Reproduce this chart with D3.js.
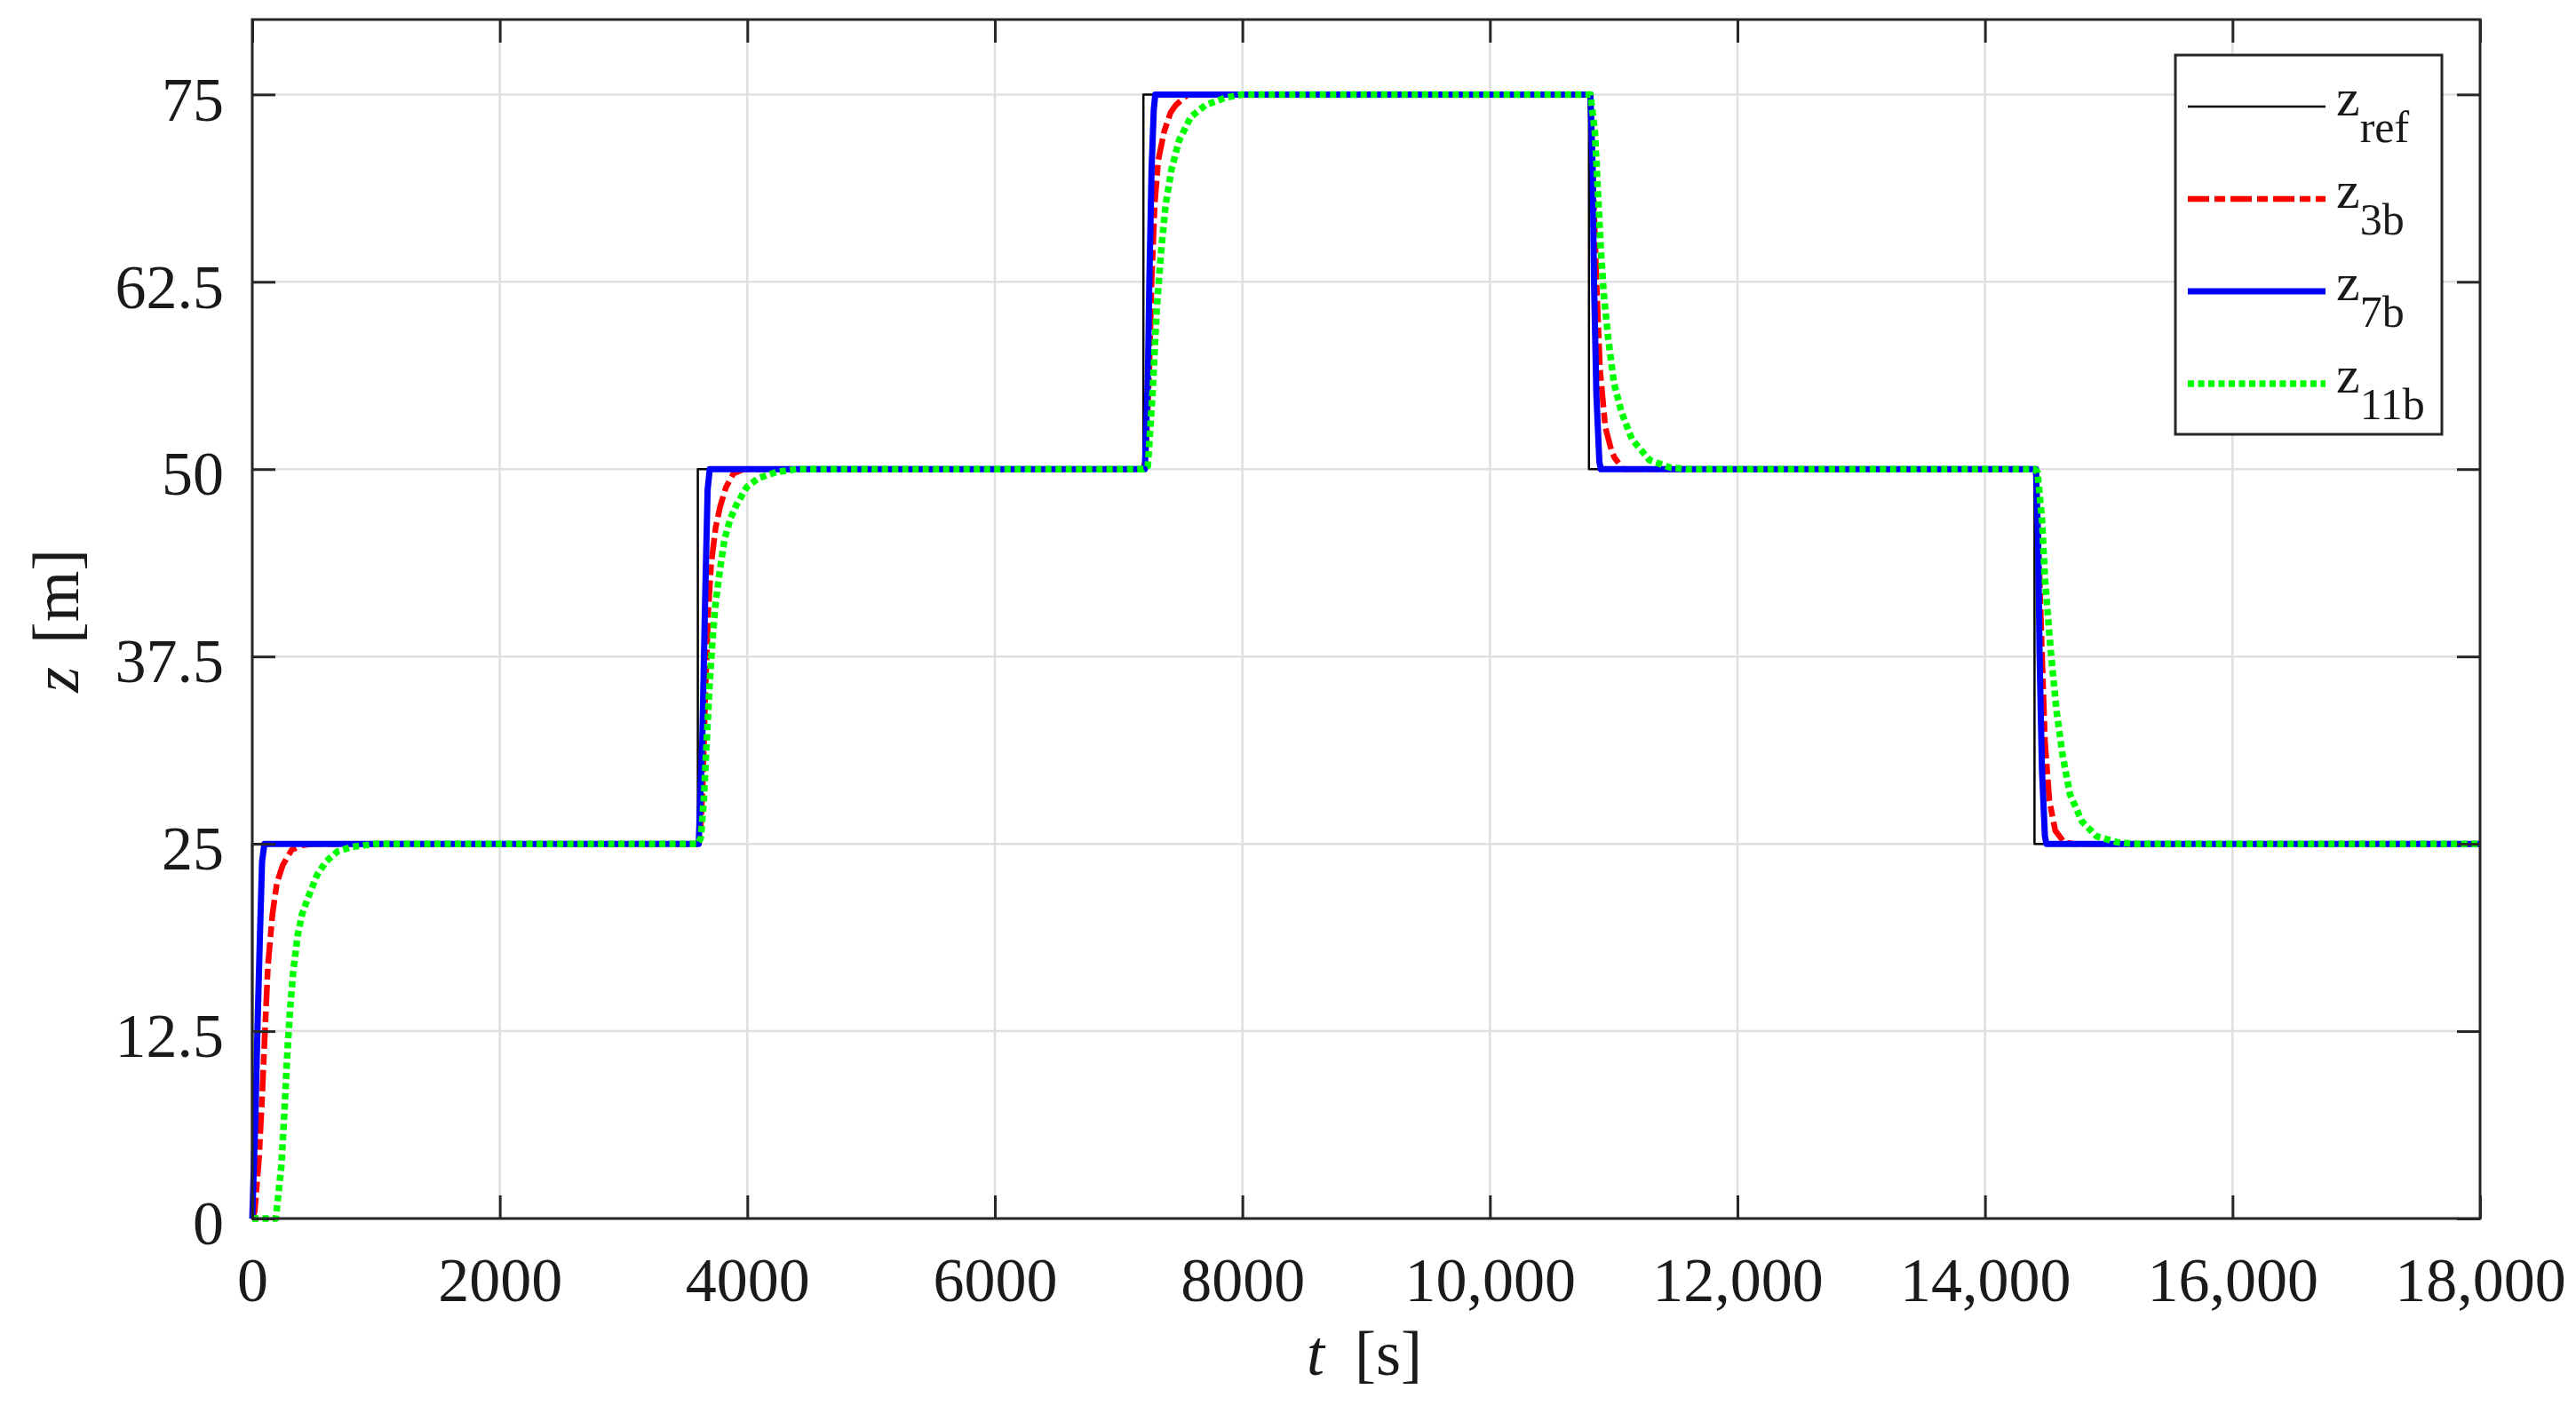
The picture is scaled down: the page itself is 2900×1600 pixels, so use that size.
<!DOCTYPE html>
<html>
<head>
<meta charset="utf-8">
<style>
body { margin: 0; background: #fff; }
text { font-family: "Liberation Serif", "Times New Roman", serif; fill: #1a1a1a; }
</style>
</head>
<body>
<div id="chart"></div>
<script src="https://cdnjs.cloudflare.com/ajax/libs/d3/7.8.5/d3.min.js"></script>
<script>
// depth responses, pairs of [t (s), z (m)]
var zRef = [[0,0],[0,25],[3600,25],[3600,50],[7200,50],[7200,75],[10800,75],[10800,50],
  [14400,50],[14400,25],[18000,25]];

var z3b = [
  [0,0],[20,0.5],[55,4.1],[79,8.0],[103,12.6],[127,16.9],[163,20.3],[199,22.4],[247,23.6],[319,24.6],[403,24.9],[500,25],
  [3600,25],[3620,25.5],[3640,29],[3660,34.8],[3684,40.5],[3708,43.7],[3744,46.1],[3780,47.5],[3828,48.8],[3887,49.7],[3971,50],
  [7200,50],[7215,50.5],[7230,53],[7248,56.7],[7267,62.7],[7291,67.6],[7320,70.6],[7367,72.5],[7420,73.8],[7463,74.3],[7560,75],
  [10800,75],[10812,74.9],[10836,68.6],[10860,62.7],[10889,56.7],[10932,52.8],[10980,51.3],[11004,50.8],[11075,50],
  [14400,50],[14412,49.8],[14436,44],[14460,37.8],[14484,31.9],[14520,27.9],[14567,25.9],[14639,25.1],[14720,25],
  [18000,25]
];

var z7b = [
  [0,0],[26,7.0],[43,13.0],[62,18.9],[79,23.8],[98,25],
  [3607,25],[3636,31.9],[3660,41.7],[3679,48.6],[3696,50],
  [7212,50],[7236,56],[7248,62.5],[7266,70],[7284,74],[7296,75],
  [10812,75],[10830,70],[10841,62.5],[10860,55],[10884,50.5],[10896,50],
  [14412,50],[14430,45],[14441,37.5],[14460,30],[14484,25.5],[14496,25],
  [18000,25]
];

var z11b = [
  [0,0],[190,0],[199,0.7],[235,3.5],[259,7.0],[283,11.0],[307,14.1],[331,16.5],[367,18.9],[402,20.3],[450,21.4],
  [522,22.9],[594,23.8],[690,24.5],[810,24.8],[1000,25],
  [3600,25],[3624,25.4],[3648,27.9],[3672,31.9],[3696,35.8],[3720,38.8],[3744,41.1],[3779,43.3],[3815,45.3],
  [3863,46.7],[3911,47.6],[3995,48.8],[4090,49.4],[4234,49.8],[4400,50],
  [7200,50],[7236,50.2],[7272,54.8],[7308,60.7],[7344,64.6],[7379,67.6],[7427,70.0],[7487,71.9],[7583,73.5],
  [7702,74.3],[7870,74.8],[8000,75],
  [10800,75],[10812,75],[10848,72.5],[10872,68.6],[10896,64.6],[10920,61.7],[10956,58.7],[11003,55.7],[11063,53.8],
  [11147,52.0],[11290,50.6],[11458,50.1],[11600,50],
  [14400,50],[14424,49.8],[14460,46.7],[14484,42.7],[14532,37.8],[14579,33.8],[14627,30.9],[14687,28.3],[14783,26.5],
  [14902,25.5],[15070,25.1],[15200,25],
  [18000,25]
];

var xTicks = [0, 2000, 4000, 6000, 8000, 10000, 12000, 14000, 16000, 18000];
var yTicks = [0, 12.5, 25, 37.5, 50, 62.5, 75];
var legendSubs = ["ref", "3b", "7b", "11b"];

var W = 2900, H = 1600;
var margin = {top: 22, right: 108, bottom: 228, left: 284};
var w = W - margin.left - margin.right;
var h = H - margin.top - margin.bottom;

var svg = d3.select("#chart").append("svg")
  .attr("width", W)
  .attr("height", H);

var g = svg.append("g")
  .attr("transform", "translate(" + margin.left + "," + margin.top + ")");

var x = d3.scaleLinear().domain([0, 18000]).range([0, w]);
var y = d3.scaleLinear().domain([0, 80]).range([h, 0]);

// grid
g.append("g").selectAll("line").data(xTicks).enter().append("line")
  .attr("x1", function(d) { return x(d); })
  .attr("x2", function(d) { return x(d); })
  .attr("y1", 0).attr("y2", h)
  .attr("stroke", "#e0e0e0").attr("stroke-width", 2.5);
g.append("g").selectAll("line").data(yTicks).enter().append("line")
  .attr("y1", function(d) { return y(d); })
  .attr("y2", function(d) { return y(d); })
  .attr("x1", 0).attr("x2", w)
  .attr("stroke", "#e0e0e0").attr("stroke-width", 2.5);

// curves, drawn in legend order so the dotted one ends on top
var line = d3.line()
  .x(function(d) { return x(d[0]); })
  .y(function(d) { return y(d[1]); });

var series = [
  {data: zRef, color: "#000000", width: 2.5, dash: null},
  {data: z3b, color: "#ff0000", width: 6.5, dash: "24,6,12,6"},
  {data: z7b, color: "#0000ff", width: 7, dash: null},
  {data: z11b, color: "#00ff00", width: 7.5, dash: "7,4.5"}
];

g.append("g").selectAll("path").data(series).enter().append("path")
  .attr("d", function(d) { return line(d.data); })
  .attr("fill", "none")
  .attr("stroke", function(d) { return d.color; })
  .attr("stroke-width", function(d) { return d.width; })
  .attr("stroke-dasharray", function(d) { return d.dash; })
  .attr("stroke-linejoin", "round");

// axes: inward ticks on all four sides
var fmtX = function(d) { return d >= 10000 ? d3.format(",")(d) : String(d); };

var xAxis = g.append("g").attr("transform", "translate(0," + h + ")")
  .call(d3.axisBottom(x).tickValues(xTicks).tickFormat(fmtX).tickSize(-26));
xAxis.selectAll("text").attr("y", 93).attr("dy", null).style("font-size", "70px");

var yAxis = g.append("g")
  .call(d3.axisLeft(y).tickValues(yTicks).tickFormat(d3.format("")).tickSize(-26).tickPadding(32));
yAxis.selectAll("text").attr("dy", "0.41em").style("font-size", "70px");

g.append("g").call(d3.axisTop(x).tickValues(xTicks).tickFormat("").tickSize(-26));
g.append("g").attr("transform", "translate(" + w + ",0)")
  .call(d3.axisRight(y).tickValues(yTicks).tickFormat("").tickSize(-26));

g.selectAll(".domain").remove();
g.selectAll(".tick line").attr("stroke", "#262626").attr("stroke-width", 3);

g.append("rect")
  .attr("width", w).attr("height", h)
  .attr("fill", "none").attr("stroke", "#262626").attr("stroke-width", 3);

// axis labels
var xl = svg.append("text")
  .attr("x", 1536).attr("y", 1548)
  .attr("text-anchor", "middle")
  .style("font-size", "72px");
xl.append("tspan").style("font-style", "italic").text("t");
xl.append("tspan").attr("dx", 34).text("[s]");

var yl = svg.append("text")
  .attr("transform", "translate(88,699) rotate(-90)")
  .attr("text-anchor", "middle")
  .style("font-size", "74px");
yl.append("tspan").style("font-style", "italic").text("z");
yl.append("tspan").attr("dx", 26).text("[m]");

// legend
var leg = svg.append("g").attr("transform", "translate(2449,62)");
leg.append("rect")
  .attr("width", 300).attr("height", 427)
  .attr("fill", "#fff").attr("stroke", "#262626").attr("stroke-width", 3);

var rows = leg.selectAll("g.row").data(series).enter().append("g")
  .attr("class", "row")
  .attr("transform", function(d, i) { return "translate(0," + (58 + i * 104) + ")"; });

rows.append("line")
  .attr("x1", 14).attr("x2", 169)
  .attr("stroke", function(d) { return d.color; })
  .attr("stroke-width", function(d) { return d.width; })
  .attr("stroke-dasharray", function(d) { return d.dash; });

var lt = rows.append("text")
  .attr("x", 181).attr("y", 10)
  .style("font-size", "60px");
lt.append("tspan").text("z");
lt.append("tspan").attr("dy", 30).style("font-size", "50px")
  .text(function(d, i) { return legendSubs[i]; });
</script>
</body>
</html>
